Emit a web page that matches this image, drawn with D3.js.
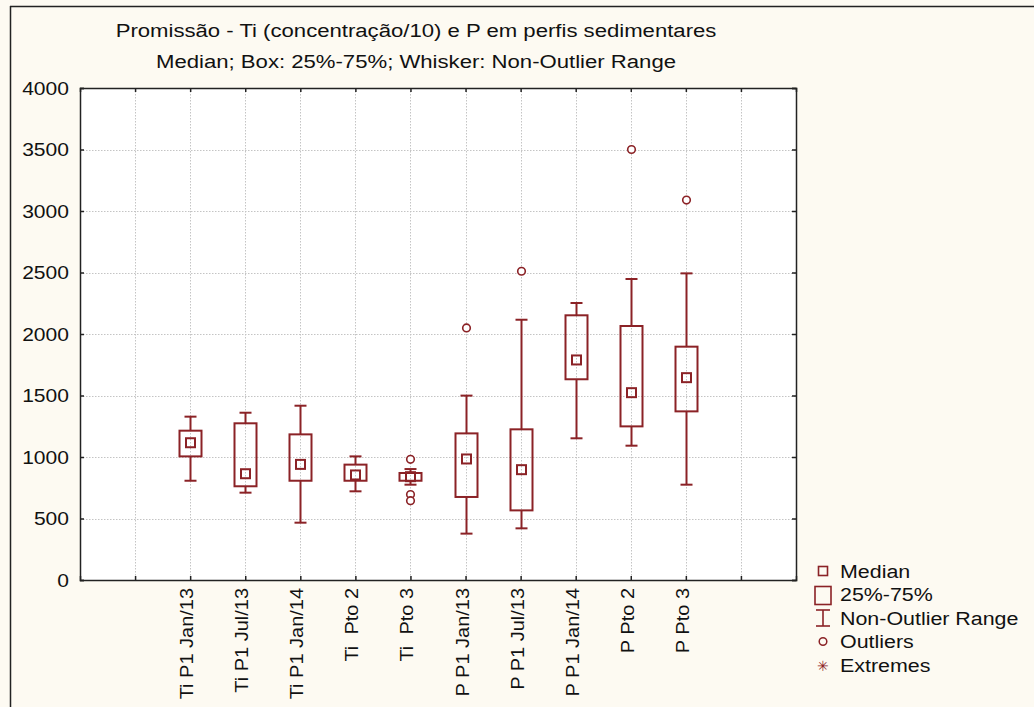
<!DOCTYPE html>
<html><head><meta charset="utf-8">
<script src="https://cdn.jsdelivr.net/npm/d3@7"></script>
<style>body{margin:0;background:#fdfaf2;} text{font-family:Arial,"Liberation Sans",sans-serif;white-space:pre;}</style>
</head><body>
<svg id="c" width="1034" height="707"></svg>
<script>
const categories = ["Ti P1 Jan/13","Ti P1 Jul/13","Ti P1 Jan/14","Ti  Pto 2","Ti  Pto 3","P P1 Jan/13","P P1 Jul/13","P P1 Jan/14","P Pto 2","P Pto 3"];
const whiskerLow  = [807, 710, 466, 721, 775, 377, 420, 1152, 1092, 775];
const q1          = [1005, 762, 807, 807, 807, 675, 566, 1632, 1249, 1371];
const medians     = [1116, 864, 940, 854, 840, 984, 897, 1789, 1523, 1645];
const q3          = [1214, 1274, 1184, 938, 870, 1192, 1225, 2152, 2065, 1897];
const whiskerHigh = [1328, 1360, 1417, 1005, 902, 1499, 2116, 2252, 2447, 2493];
const outliers    = [[], [], [], [], [981, 695, 645], [2049], [2510], [], [3500], [3089]];
const yTicks = [0, 500, 1000, 1500, 2000, 2500, 3000, 3500, 4000];
const legendItems = ["Median", "25%-75%", "Non-Outlier Range", "Outliers", "Extremes"];
const titleLines = ["Promissão - Ti (concentração/10) e P em perfis sedimentares", "Median; Box: 25%-75%; Whisker: Non-Outlier Range"];

const col = "#8b2226";
const svg = d3.select("#c");
svg.append("rect").attr("x",0).attr("y",0).attr("width",1034).attr("height",707).attr("fill","#fdfaf2");
svg.append("line").attr("x1",10).attr("x2",1034).attr("y1",6.5).attr("y2",6.5).attr("stroke","#222").attr("stroke-width",1.5);
svg.append("line").attr("x1",10.5).attr("x2",10.5).attr("y1",6).attr("y2",707).attr("stroke","#222").attr("stroke-width",1.5);

const L=80, R=796, T=88, B=580;
const x = d3.scaleLinear().domain([-2, 11]).range([L, R]);
const y = d3.scaleLinear().domain([0, 4000]).range([B, T]);

svg.append("rect").attr("x",L).attr("y",T).attr("width",R-L).attr("height",B-T).attr("fill","#fff");

const xGrid = d3.range(-1, 11);
svg.append("g").selectAll("line").data(xGrid).join("line")
  .attr("x1",d=>Math.round(x(d))+0.5).attr("x2",d=>Math.round(x(d))+0.5).attr("y1",T).attr("y2",B)
  .attr("stroke","#c4c4c4").attr("stroke-dasharray","1.5,1.5");
svg.append("g").selectAll("line").data(yTicks.filter(d=>d>0&&d<4000)).join("line")
  .attr("x1",L).attr("x2",R).attr("y1",d=>Math.round(y(d))+0.5).attr("y2",d=>Math.round(y(d))+0.5)
  .attr("stroke","#c4c4c4").attr("stroke-dasharray","1.5,1.5");

const gL = svg.append("g").attr("transform",`translate(${L},0)`)
  .call(d3.axisLeft(y).tickValues(yTicks).tickSize(-4).tickFormat(""));
const gR = svg.append("g").attr("transform",`translate(${R},0)`)
  .call(d3.axisRight(y).tickValues(yTicks).tickSize(-4).tickFormat(""));
const gT = svg.append("g").attr("transform",`translate(0,${T})`)
  .call(d3.axisTop(x).tickValues(xGrid).tickSize(-4).tickFormat(""));
const gB = svg.append("g").attr("transform",`translate(0,${B})`)
  .call(d3.axisBottom(x).tickValues(xGrid).tickSize(-4).tickFormat(""));
[gL,gR,gT,gB].forEach(g=>{g.select(".domain").attr("stroke","#222").attr("stroke-width",1.5);g.selectAll(".tick line").attr("stroke","#222").attr("stroke-width",1.5);});

svg.append("g").selectAll("text").data(yTicks).join("text")
  .attr("transform",d=>`translate(69,${y(d)+6.5}) scale(1.17,1)`)
  .attr("text-anchor","end").attr("font-size",18).attr("fill","#111").text(d=>d3.format("d")(d));

svg.append("g").selectAll("text").data(categories).join("text")
  .attr("transform",(d,i)=>`translate(${x(i)+3},${B+8}) rotate(-90) scale(1.11,1)`)
  .attr("text-anchor","end").attr("font-size",18).attr("fill","#111").text(d=>d);

const bw = 22, cap = 12, ms = 9;
const g = svg.append("g");
categories.forEach((c,i)=>{
  const cx = Math.round(x(i))+0.5;
  g.append("line").attr("x1",cx).attr("x2",cx).attr("y1",y(whiskerLow[i])).attr("y2",y(q1[i])).attr("stroke",col).attr("stroke-width",2);
  g.append("line").attr("x1",cx).attr("x2",cx).attr("y1",y(whiskerHigh[i])).attr("y2",y(q3[i])).attr("stroke",col).attr("stroke-width",2);
  [whiskerLow[i], whiskerHigh[i]].forEach(v=>g.append("line").attr("x1",cx-cap/2).attr("x2",cx+cap/2).attr("y1",y(v)).attr("y2",y(v)).attr("stroke",col).attr("stroke-width",2));
  g.append("rect").attr("x",cx-bw/2).attr("y",y(q3[i])).attr("width",bw).attr("height",y(q1[i])-y(q3[i])).attr("fill","none").attr("stroke",col).attr("stroke-width",2);
  g.append("rect").attr("x",cx-ms/2).attr("y",y(medians[i])-ms/2).attr("width",ms).attr("height",ms).attr("fill","none").attr("stroke",col).attr("stroke-width",2);
  outliers[i].forEach(v=>g.append("circle").attr("cx",cx).attr("cy",y(v)).attr("r",3.8).attr("fill","#fff").attr("stroke",col).attr("stroke-width",1.6));
});

svg.append("g").selectAll("text").data(titleLines).join("text")
  .attr("transform",(d,i)=>`translate(416,${37+i*31}) scale(1.23,1)`)
  .attr("text-anchor","middle").attr("font-size",18).attr("fill","#111").text(d=>d);

const lx = 823, ly0 = 571, lh = 23.5;
const lg = svg.append("g");
legendItems.forEach((t,i)=>{
  lg.append("text").attr("transform",`translate(840,${ly0 + i*lh + 6.5}) scale(1.19,1)`)
    .attr("font-size",18).attr("fill","#111").text(t);
});
lg.append("rect").attr("x",lx-4.5).attr("y",ly0-4.5).attr("width",9).attr("height",9).attr("fill","none").attr("stroke",col).attr("stroke-width",1.6);
lg.append("rect").attr("x",lx-8).attr("y",ly0+lh-8).attr("width",16).attr("height",18).attr("fill","none").attr("stroke",col).attr("stroke-width",1.6);
const ny = ly0+2*lh;
lg.append("line").attr("x1",lx).attr("x2",lx).attr("y1",ny-8).attr("y2",ny+8).attr("stroke",col).attr("stroke-width",1.6);
lg.append("line").attr("x1",lx-7).attr("x2",lx+7).attr("y1",ny-8).attr("y2",ny-8).attr("stroke",col).attr("stroke-width",1.6);
lg.append("line").attr("x1",lx-7).attr("x2",lx+7).attr("y1",ny+8).attr("y2",ny+8).attr("stroke",col).attr("stroke-width",1.6);
lg.append("circle").attr("cx",lx).attr("cy",ly0+3*lh).attr("r",3.8).attr("fill","none").attr("stroke",col).attr("stroke-width",1.5);
lg.append("text").attr("x",lx).attr("y",ly0+4*lh+6).attr("text-anchor","middle").attr("font-size",14).attr("fill",col).text("✳");
</script>
</body></html>
